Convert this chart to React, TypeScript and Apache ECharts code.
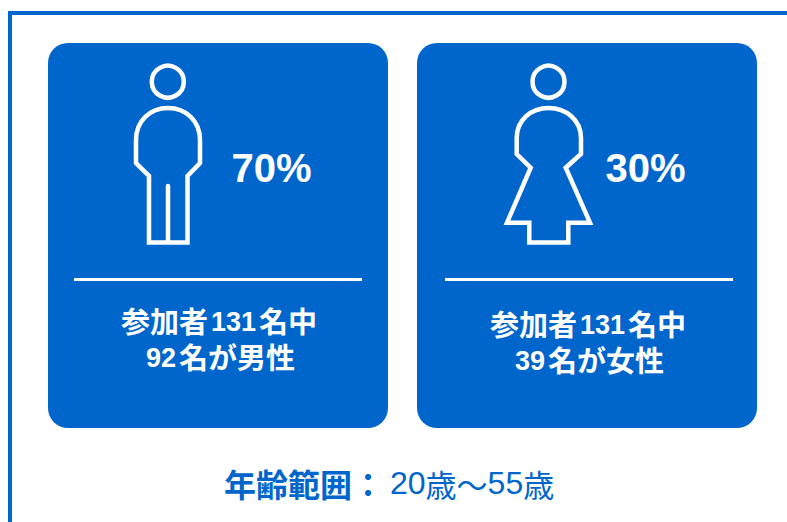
import React, { useEffect, useRef } from "react";
import * as echarts from "echarts";

// Participant breakdown
const participantTotal = 131;
const groupLabels = ["男性", "女性"];
const groupCounts = [92, 39];
const groupShares = [70, 30];
const ageRange = [20, 55];

const BLUE = "#0066cc";
const LATIN = '"Liberation Sans", Arial, sans-serif';
const CJK = '"Noto Sans CJK JP", sans-serif';

const MAN =
  "M149,242.5 L149,176 L136,163 L136,140 C136,121 150,108 168,108 C186,108 200,121 200,140 L200,163 L187.5,176 L187.5,242.5 Z M168,186 L168,242.5";
const WOMAN =
  "M529.3,242.5 L529.3,222.7 L507,222.7 L530.7,167.7 L516.7,154 L516.7,138 C516.7,120 531,108 548.7,108 C566,108 581,120 581,138 L581,154 L565.7,167.7 L590,222.7 L568.3,222.7 L568.3,242.5 Z";

echarts.graphic.registerShape("manFigure", echarts.graphic.extendPath(MAN, {}));
echarts.graphic.registerShape("womanFigure", echarts.graphic.extendPath(WOMAN, {}));

const captionStyles = {
  c: { fontFamily: CJK, fontSize: 29, fontWeight: "bold", fill: "#ffffff", lineHeight: 30 },
  n: { fontFamily: LATIN, fontSize: 27, fontWeight: "bold", fill: "#ffffff", lineHeight: 26, padding: [4, 3, 0, 3] },
};

const captionLine = (x: number, y: number, content: string) => ({
  type: "text",
  x,
  y,
  style: {
    text: content,
    align: "center",
    verticalAlign: "middle",
    rich: captionStyles,
  },
});

function card(i: number, left: number, figure: string, cx: number, pctX: number, captionX: number, captionY: number) {
  return [
    {
      type: "rect",
      shape: { x: left, y: 43, width: 340, height: 385, r: 20 },
      style: { fill: BLUE },
    },
    {
      type: "circle",
      shape: { cx, cy: 81.7, r: 16 },
      style: { fill: "none", stroke: "#ffffff", lineWidth: 4.5 },
    },
    {
      type: figure,
      style: { fill: "none", stroke: "#ffffff", lineWidth: 4.5, lineJoin: "miter", lineCap: "round" },
    },
    {
      type: "text",
      x: pctX,
      y: 168,
      style: {
        text: `${groupShares[i]}%`,
        fontFamily: LATIN,
        fontSize: 40,
        fontWeight: "bold",
        fill: "#ffffff",
        align: "center",
        verticalAlign: "middle",
      },
    },
    {
      type: "rect",
      shape: { x: left + 26 + i * 2, y: 278, width: 288, height: 3 },
      style: { fill: "#ffffff" },
    },
    captionLine(captionX, captionY, `{c|参加者}{n|${participantTotal}}{c|名中}`),
    captionLine(captionX, captionY + 36, `{n|${groupCounts[i]}}{c|名が${groupLabels[i]}}`),
  ];
}

export default function App() {
  const ref = useRef<HTMLDivElement>(null);

  useEffect(() => {
    const chart = echarts.init(ref.current!, null, { renderer: "svg" });
    chart.setOption({
      animation: false,
      backgroundColor: "#ffffff",
      graphic: {
        elements: [
          // Frame: only the top and left edges are visible
          { type: "rect", shape: { x: 8, y: 11, width: 779, height: 4 }, style: { fill: BLUE } },
          { type: "rect", shape: { x: 8, y: 11, width: 4, height: 511 }, style: { fill: BLUE } },
          ...card(0, 48, "manFigure", 167.8, 271.5, 219, 320),
          ...card(1, 417, "womanFigure", 548.5, 645.5, 588, 323),
          {
            type: "text",
            x: 224,
            y: 483,
            style: {
              text: `{b|年齢範囲：}{n|${ageRange[0]}}{r|歳～}{n|${ageRange[1]}}{r|歳}`,
              align: "left",
              verticalAlign: "middle",
              rich: {
                b: { fontFamily: CJK, fontSize: 32, fontWeight: "bold", fill: BLUE, padding: [0, 6, 0, 0] },
                n: { fontFamily: LATIN, fontSize: 32, fill: BLUE },
                r: { fontFamily: CJK, fontSize: 31, fill: BLUE },
              },
            },
          },
        ],
      },
    });
    return () => chart.dispose();
  }, []);

  return <div ref={ref} style={{ position: "absolute", left: 0, top: 0, width: 787, height: 522 }} />;
}
